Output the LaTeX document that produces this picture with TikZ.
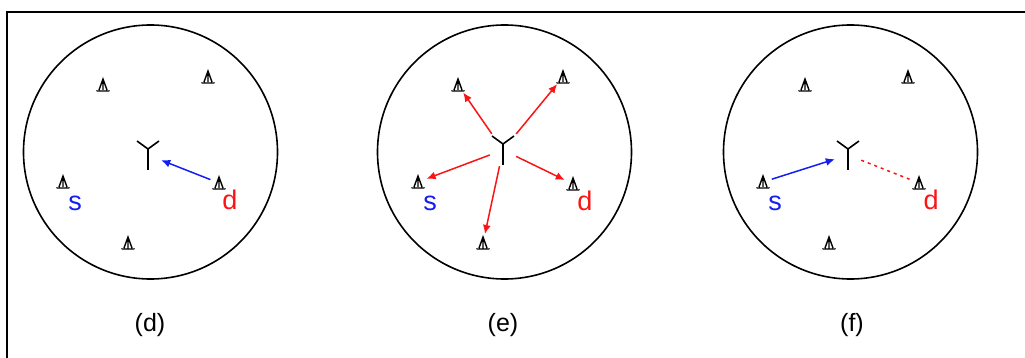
\documentclass[tikz,border=0pt]{standalone}
\usepackage{fontspec}
\setmainfont{Liberation Sans}
\usetikzlibrary{arrows.meta}
\definecolor{sblue}{RGB}{20,30,240}
\definecolor{dred}{RGB}{250,20,20}
\tikzset{
  cellcirc/.style={draw=black, line width=1.6pt, circle, minimum size=254pt, inner sep=0pt},
  mobile/.style={inner sep=0pt, minimum size=18pt, circle,
    path picture={
      \draw[line width=1.4pt,black]
        ([shift={(-7,6)}]path picture bounding box.center) -- ([shift={(7,6)}]path picture bounding box.center)
        ([shift={(-4,5)}]path picture bounding box.center) -- ([shift={(0,-6)}]path picture bounding box.center)
        -- ([shift={(4,5)}]path picture bounding box.center)
        ([shift={(0,-6)}]path picture bounding box.center) -- ([shift={(0,5)}]path picture bounding box.center);
    }},
  bsant/.style={inner sep=0pt, minimum width=26pt, minimum height=32pt,
    path picture={
      \draw[line width=1.6pt,black]
        ([shift={(-11,-14)}]path picture bounding box.center) -- ([shift={(0,-6)}]path picture bounding box.center)
        -- ([shift={(11,-14)}]path picture bounding box.center)
        ([shift={(0,-6)}]path picture bounding box.center) -- ([shift={(0,15)}]path picture bounding box.center);
    }},
  lab/.style={font=\fontsize{27}{30}\selectfont, inner sep=0pt},
  captext/.style={font=\fontsize{25}{28}\selectfont, inner sep=0pt},
  link/.style={line width=1.5pt, -{Latex[length=9pt,width=8pt]}},
  frameline/.style={line width=2pt}
}
\begin{document}
\begin{tikzpicture}[x=1pt,y=-1pt]
\useasboundingbox (0,0) rectangle (1025,358);
\draw[frameline] (7,358) -- (7,12) -- (1025,12);

% ---------- (d) ----------
\node[cellcirc] (cd) at (150.5,152) {};
\node[mobile] (d1) at (103,85) {};
\node[mobile] (d2) at (208,77) {};
\node[mobile] (ds) at (63,182) {};
\node[mobile] (dd) at (219,183) {};
\node[mobile] (d5) at (128,243) {};
\node[bsant] (dy) at (148,155) {};
\node[lab, text=sblue] (dsl) at (75,203) {s};
\node[lab, text=dred] (ddl) at (230,200) {d};
\draw[link, sblue] (dd) -- (dy);
\node[captext] (capd) at (150,325) {(d)};

% ---------- (e) ----------
\node[cellcirc] (ce) at (504.5,152) {};
\node[mobile] (e1) at (458,85) {};
\node[mobile] (e2) at (563,77) {};
\node[mobile] (es) at (418,182) {};
\node[mobile] (ed) at (573,184) {};
\node[mobile] (e5) at (483,243) {};
\node[bsant] (ey) at (503,150) {};
\node[lab, text=sblue] (esl) at (430,203) {s};
\node[lab, text=dred] (edl) at (585,201) {d};
\draw[link, dred] (ey) -- (e1);
\draw[link, dred] (ey) -- (e2);
\draw[link, dred] (ey) -- (es);
\draw[link, dred] (ey) -- (ed);
\draw[link, dred] (ey) -- (e5);
\node[captext] (cape) at (503,325) {(e)};

% ---------- (f) ----------
\node[cellcirc] (cf) at (850.5,152) {};
\node[mobile] (f1) at (805,85) {};
\node[mobile] (f2) at (908,77) {};
\node[mobile] (fs) at (763,182) {};
\node[mobile] (fd) at (919,183) {};
\node[mobile] (f5) at (829,243) {};
\node[bsant] (fy) at (848,155) {};
\node[lab, text=sblue] (fsl) at (775,203) {s};
\node[lab, text=dred] (fdl) at (931,200) {d};
\draw[link, sblue] (fs) -- (fy);
\draw[line width=1.5pt, dred, dash pattern=on 3pt off 4pt] (fy) -- (fd);
\node[captext] (capf) at (852,325) {(f)};
\end{tikzpicture}
\end{document}
